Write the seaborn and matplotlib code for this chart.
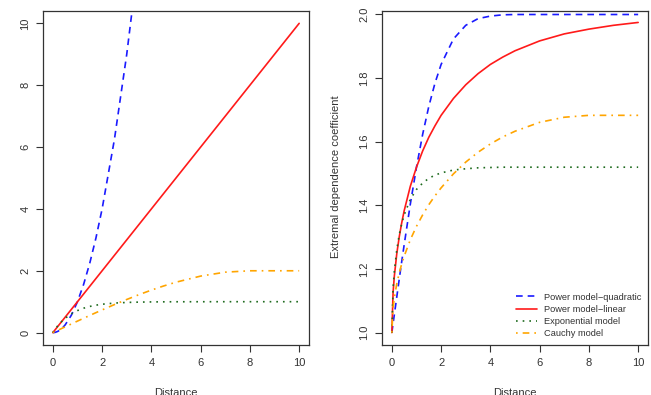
import matplotlib
matplotlib.use("Agg")
import matplotlib.pyplot as plt
import seaborn as sns
import numpy as np

dist = [0, 0.05, 0.1, 0.2, 0.3, 0.4, 0.5, 0.75, 1, 1.25, 1.5, 1.75, 2,
        2.5, 3, 3.5, 4, 4.5, 5, 6, 7, 8, 9, 10]

# left panel: variograms
vario_quad = [0, 0.0025, 0.01, 0.04, 0.09, 0.16, 0.25, 0.5625, 1, 1.5625, 2.25,
              3.0625, 4, 6.25, 9, 12.25, 16, 20.25, 25, 36, 49, 64, 81, 100]
vario_lin = [0, 0.05, 0.1, 0.2, 0.3, 0.4, 0.5, 0.75, 1, 1.25, 1.5, 1.75, 2,
             2.5, 3, 3.5, 4, 4.5, 5, 6, 7, 8, 9, 10]
vario_exp = [0, 0.061, 0.118, 0.221, 0.313, 0.393, 0.465, 0.608, 0.713, 0.790,
             0.847, 0.888, 0.918, 0.956, 0.976, 0.987, 0.993, 0.996, 0.998,
             0.999, 1.0, 1.0, 1.0, 1.0]
vario_cau = [0, 0.019, 0.0375, 0.075, 0.112, 0.150, 0.187, 0.280, 0.373, 0.465,
             0.556, 0.646, 0.734, 0.907, 1.072, 1.229, 1.375, 1.509, 1.631,
             1.828, 1.955, 2.0, 2.0, 2.0]

# right panel: extremal dependence coefficients
ext_quad = [1.0, 1.028, 1.056, 1.112, 1.168, 1.223, 1.276, 1.404, 1.520, 1.623,
            1.711, 1.784, 1.843, 1.923, 1.966, 1.987, 1.995, 1.999, 2.0, 2.0,
            2.0, 2.0, 2.0, 2.0]
ext_lin = [1.0, 1.126, 1.177, 1.248, 1.301, 1.345, 1.383, 1.460, 1.520, 1.571,
           1.614, 1.650, 1.683, 1.736, 1.779, 1.814, 1.843, 1.866, 1.886,
           1.917, 1.939, 1.954, 1.966, 1.975]
ext_exp = [1.0, 1.139, 1.192, 1.260, 1.308, 1.342, 1.370, 1.419, 1.450, 1.470,
           1.485, 1.495, 1.502, 1.511, 1.515, 1.518, 1.519, 1.520, 1.520,
           1.520, 1.520, 1.520, 1.520, 1.520]
ext_cau = [1.0, 1.078, 1.109, 1.154, 1.187, 1.216, 1.240, 1.292, 1.334, 1.370,
           1.402, 1.430, 1.455, 1.499, 1.536, 1.567, 1.593, 1.615, 1.633,
           1.661, 1.677, 1.683, 1.683, 1.683]

labels = ["Power model\u2212quadratic", "Power model\u2212linear",
          "Exponential model", "Cauchy model"]

sns.set_style("white")
plt.rcParams['font.family'] = ['Liberation Sans', 'DejaVu Sans']

styles = [("#1a1aff", (0, (4, 3))),
          ("#ff1a1a", "-"),
          ("#1f6b1f", (0, (1, 3))),
          ("#ffa500", (0, (1, 3, 4, 3)))]

fig = plt.figure(figsize=(6.51, 3.95), dpi=100)
ax1 = fig.add_axes([43 / 651, 50 / 395, 266 / 651, 334 / 395])
ax2 = fig.add_axes([382 / 651, 50 / 395, 266 / 651, 334 / 395])

for vals, lab, (col, ls) in zip([vario_quad, vario_lin, vario_exp, vario_cau], labels, styles):
    sns.lineplot(x=dist, y=vals, ax=ax1, color=col, linestyle=ls, linewidth=1.2)

for vals, lab, (col, ls) in zip([ext_quad, ext_lin, ext_exp, ext_cau], labels, styles):
    sns.lineplot(x=dist, y=vals, ax=ax2, color=col, linestyle=ls, linewidth=1.2, label=lab)

ax1.set_xlim(-0.4, 10.4)
ax1.set_ylim(-0.4, 10.4)
ax1.set_xticks([0, 2, 4, 6, 8, 10])
ax1.set_yticks([0, 2, 4, 6, 8, 10])

ax2.set_xlim(-0.4, 10.4)
ax2.set_ylim(0.961, 2.011)
ax2.set_xticks([0, 2, 4, 6, 8, 10])
ax2.set_yticks([1.0, 1.2, 1.4, 1.6, 1.8, 2.0])
ax2.set_yticklabels(["1.0", "1.2", "1.4", "1.6", "1.8", "2.0"])

for ax in (ax1, ax2):
    for s in ax.spines.values():
        s.set_color("#333333")
        s.set_linewidth(0.9)
    ax.tick_params(direction="out", length=5, width=0.8, colors="#333333",
                   labelsize=8, labelcolor="#333333", pad=4, bottom=True, left=True)
    for t in ax.get_yticklabels():
        t.set_rotation(90)
        t.set_va("center")
    ax.set_xlabel("")
    ax.set_ylabel("")

fig.text(176 / 651, 1 - 388 / 395, "Distance", ha="center", va="top", fontsize=8, color="#333333")
fig.text(515 / 651, 1 - 388 / 395, "Distance", ha="center", va="top", fontsize=8, color="#333333")
fig.text(-9 / 651, 1 - 178 / 395, "Variogram", rotation=90, ha="left", va="center", fontsize=8, color="#333333")
fig.text(336 / 651, 1 - 177 / 395, "Extremal dependence coefficient", rotation=90,
         ha="center", va="center", fontsize=8, color="#333333")

leg = ax2.legend(loc="lower right", bbox_to_anchor=(1.0, 0.0), frameon=False,
                 fontsize=6.7, handlelength=2.2, labelspacing=0.35, handletextpad=0.8,
                 borderaxespad=0.3)
for t in leg.get_texts():
    t.set_color("#333333")

fig.savefig("out.png", dpi=100)
